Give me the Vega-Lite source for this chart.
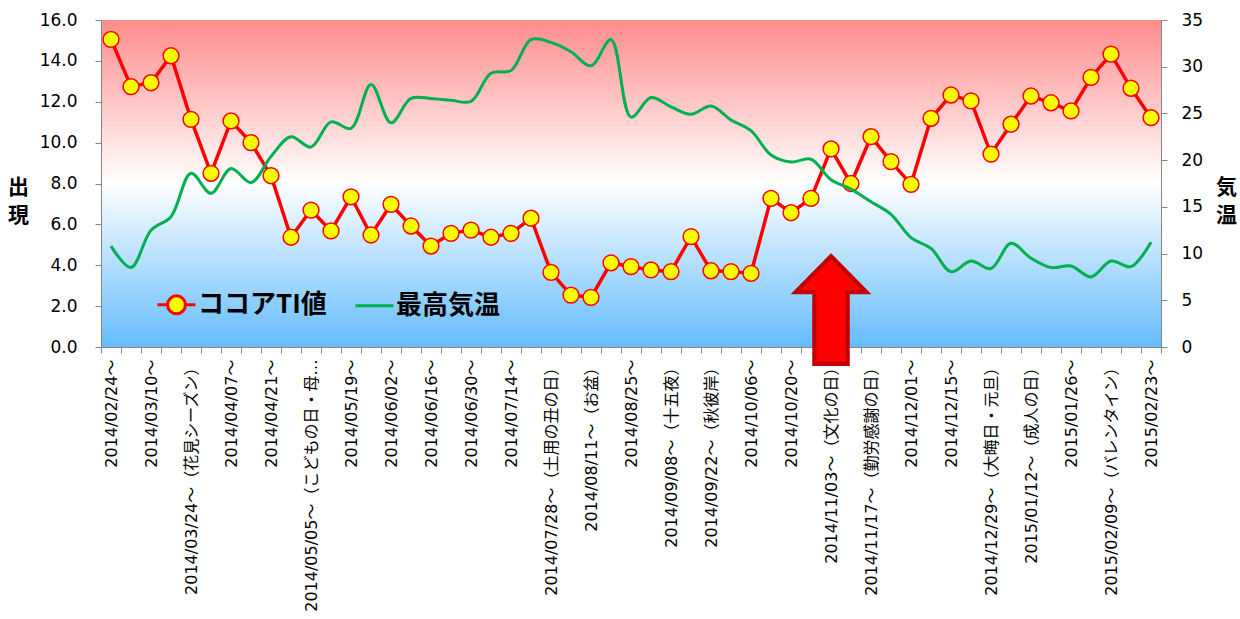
{
  "$schema": "https://vega.github.io/schema/vega-lite/v6.json",
  "width": 1060,
  "height": 327,
  "autosize": "none",
  "padding": {"left": 101, "top": 20, "right": 79, "bottom": 272},
  "background": "white",
  "config": {
    "view": {
      "stroke": null,
      "fill": {"gradient": "linear", "x1": 0, "y1": 0, "x2": 0, "y2": 1,
        "stops": [{"offset": 0, "color": "#FF8C8C"}, {"offset": 0.5, "color": "#FFFFFF"}, {"offset": 1, "color": "#64BCFC"}]}
    },
    "axis": {"grid": false, "domainColor": "#868686", "tickColor": "#868686", "labelColor": "#000000", "titleColor": "#000000"}
  },
  "data": {"values": [
    {"week": "2014/02/24～", "ti": 15.05, "temp": 10.8},
    {"week": "2014/03/03～", "ti": 12.74, "temp": 8.5},
    {"week": "2014/03/10～", "ti": 12.93, "temp": 12.5},
    {"week": "2014/03/17～", "ti": 14.25, "temp": 13.95},
    {"week": "2014/03/24～（花見シーズン）", "ti": 11.14, "temp": 18.6},
    {"week": "2014/03/31～", "ti": 8.5, "temp": 16.45},
    {"week": "2014/04/07～", "ti": 11.06, "temp": 19.1},
    {"week": "2014/04/14～", "ti": 10.0, "temp": 17.6},
    {"week": "2014/04/21～", "ti": 8.38, "temp": 20.4},
    {"week": "2014/04/28～", "ti": 5.37, "temp": 22.5},
    {"week": "2014/05/05～（こどもの日・母の日）", "ti": 6.7, "temp": 21.4},
    {"week": "2014/05/12～", "ti": 5.68, "temp": 24.1},
    {"week": "2014/05/19～", "ti": 7.35, "temp": 23.4},
    {"week": "2014/05/26～", "ti": 5.48, "temp": 28.1},
    {"week": "2014/06/02～", "ti": 6.98, "temp": 24.0},
    {"week": "2014/06/09～", "ti": 5.92, "temp": 26.6},
    {"week": "2014/06/16～", "ti": 4.94, "temp": 26.6},
    {"week": "2014/06/23～", "ti": 5.56, "temp": 26.4},
    {"week": "2014/06/30～", "ti": 5.72, "temp": 26.3},
    {"week": "2014/07/07～", "ti": 5.37, "temp": 29.3},
    {"week": "2014/07/14～", "ti": 5.56, "temp": 29.6},
    {"week": "2014/07/21～", "ti": 6.3, "temp": 32.9},
    {"week": "2014/07/28～（土用の丑の日）", "ti": 3.65, "temp": 32.6},
    {"week": "2014/08/04～", "ti": 2.54, "temp": 31.6},
    {"week": "2014/08/11～（お盆）", "ti": 2.43, "temp": 30.1},
    {"week": "2014/08/18～", "ti": 4.12, "temp": 32.9},
    {"week": "2014/08/25～", "ti": 3.93, "temp": 24.6},
    {"week": "2014/09/01～", "ti": 3.77, "temp": 26.7},
    {"week": "2014/09/08～（十五夜）", "ti": 3.69, "temp": 25.7},
    {"week": "2014/09/15～", "ti": 5.4, "temp": 24.9},
    {"week": "2014/09/22～（秋彼岸）", "ti": 3.73, "temp": 25.8},
    {"week": "2014/09/29～", "ti": 3.69, "temp": 24.3},
    {"week": "2014/10/06～", "ti": 3.6, "temp": 23.15},
    {"week": "2014/10/13～", "ti": 7.27, "temp": 20.55},
    {"week": "2014/10/20～", "ti": 6.57, "temp": 19.8},
    {"week": "2014/10/27～", "ti": 7.27, "temp": 20.1},
    {"week": "2014/11/03～（文化の日）", "ti": 9.69, "temp": 17.9},
    {"week": "2014/11/10～", "ti": 8.0, "temp": 16.9},
    {"week": "2014/11/17～（勤労感謝の日）", "ti": 10.29, "temp": 15.55},
    {"week": "2014/11/24～", "ti": 9.07, "temp": 14.2},
    {"week": "2014/12/01～", "ti": 7.96, "temp": 11.7},
    {"week": "2014/12/08～", "ti": 11.19, "temp": 10.55},
    {"week": "2014/12/15～", "ti": 12.33, "temp": 8.06},
    {"week": "2014/12/22～", "ti": 12.04, "temp": 9.2},
    {"week": "2014/12/29～（大晦日・元旦）", "ti": 9.44, "temp": 8.4},
    {"week": "2015/01/05～", "ti": 10.9, "temp": 11.1},
    {"week": "2015/01/12～（成人の日）", "ti": 12.28, "temp": 9.5},
    {"week": "2015/01/19～", "ti": 11.95, "temp": 8.5},
    {"week": "2015/01/26～", "ti": 11.55, "temp": 8.67},
    {"week": "2015/02/02～", "ti": 13.19, "temp": 7.5},
    {"week": "2015/02/09～（バレンタイン）", "ti": 14.33, "temp": 9.2},
    {"week": "2015/02/16～", "ti": 12.66, "temp": 8.6},
    {"week": "2015/02/23～", "ti": 11.22, "temp": 11.2}
  ]},
  "encoding": {
    "x": {
      "field": "week", "type": "nominal", "sort": null,
      "scale": {"type": "band", "paddingInner": 0, "paddingOuter": 0},
      "axis": {
        "title": null, "labelAngle": -90, "labelAlign": "right", "labelBaseline": "middle",
        "labelFont": "DejaVu Sans, Noto Sans CJK JP", "labelFontSize": 16, "labelLimit": 258,
        "labelPadding": 6, "tickSize": 6, "tickBand": "extent", "labelOverlap": false,
        "labelExpr": "round(datum.index * 52) % 2 === 0 ? datum.label : ''"
      }
    }
  },
  "layer": [
    {
      "encoding": {
        "y": {"field": "ti", "type": "quantitative",
          "scale": {"domain": [0, 16], "nice": false, "zero": true},
          "axis": {
            "title": ["出", "現"], "titleAngle": 0, "titleFont": "Noto Sans CJK JP", "titleFontSize": 21,
            "titleFontWeight": "bold", "titleLineHeight": 28, "titleX": -83, "titleY": 167,
            "titleAlign": "center", "titleBaseline": "middle",
            "values": [0, 2, 4, 6, 8, 10, 12, 14, 16], "format": ".1f",
            "labelFont": "DejaVu Sans", "labelFontSize": 17, "labelPadding": 18, "tickSize": 6
          }
        }
      },
      "layer": [
        {
          "mark": {"type": "line", "color": "#FF0000", "strokeWidth": 3.5}
        },
        {
          "mark": {"type": "point", "shape": "circle", "filled": true, "fill": "#FFFF00", "stroke": "#FF0000", "strokeWidth": 1.5, "size": 250, "opacity": 1}
        },
        {
          "mark": {"type": "point", "opacity": 0, "filled": true, "fill": "#FFFF00"},
          "encoding": {
            "stroke": {
              "datum": "ココアTI値", "type": "nominal",
              "scale": {"domain": ["ココアTI値", "最高気温"], "range": ["#FF0000", "#00B050"]},
              "legend": {
                "title": null, "orient": "none", "legendX": 55, "legendY": 264, "direction": "horizontal",
                "padding": 0, "columnPadding": 22, "labelOffset": 1, "symbolSize": 1444, "symbolStrokeWidth": 3,
                "labelFont": "Noto Sans CJK JP", "labelFontSize": 26, "labelFontWeight": "bold", "labelColor": "#000000",
                "labelLimit": 300,
                "encode": {"symbols": {"update": {"fill": {"value": "#FFFF00"}, "opacity": {"value": 1}}}}
              }
            },
            "shape": {
              "datum": "ココアTI値", "type": "nominal",
              "scale": {"domain": ["ココアTI値", "最高気温"], "range": [
                "M-1,0L-0.47,0M0.47,0L1,0M-0.47,0A0.47,0.47,0,1,1,0.47,0A0.47,0.47,0,1,1,-0.47,0Z",
                "M-1,0L1,0"
              ]},
              "legend": {
                "title": null, "orient": "none", "legendX": 55, "legendY": 264, "direction": "horizontal",
                "padding": 0, "columnPadding": 22, "labelOffset": 1, "symbolSize": 1444, "symbolStrokeWidth": 3,
                "labelFont": "Noto Sans CJK JP", "labelFontSize": 26, "labelFontWeight": "bold", "labelColor": "#000000",
                "labelLimit": 300,
                "encode": {"symbols": {"update": {"fill": {"value": "#FFFF00"}, "opacity": {"value": 1}}}}
              }
            }
          }
        },
        {
          "data": {"values": [{"week": "2014/11/03～（文化の日）", "ti": 1.81}]},
          "mark": {"type": "point", "filled": true, "opacity": 1, "fill": "#FF0000", "stroke": "#C00000", "strokeWidth": 4, "strokeJoin": "miter",
            "size": 11664,
            "shape": "M0,-1L0.66,-0.33L0.31,-0.33L0.31,1L-0.31,1L-0.31,-0.33L-0.66,-0.33Z"}
        }
      ]
    },
    {
      "mark": {"type": "line", "color": "#00B050", "strokeWidth": 3, "interpolate": "catmull-rom"},
      "encoding": {
        "y": {"field": "temp", "type": "quantitative",
          "scale": {"domain": [0, 35], "nice": false, "zero": true},
          "axis": {
            "orient": "right", "title": ["気", "温"], "titleAngle": 0, "titleFont": "Noto Sans CJK JP", "titleFontSize": 21,
            "titleFontWeight": "bold", "titleLineHeight": 28, "titleX": 65, "titleY": 167,
            "titleAlign": "center", "titleBaseline": "middle",
            "values": [0, 5, 10, 15, 20, 25, 30, 35], "format": "d",
            "labelFont": "DejaVu Sans", "labelFontSize": 17, "labelPadding": 14, "tickSize": 6
          }
        }
      }
    }
  ],
  "resolve": {"scale": {"y": "independent"}}
}
